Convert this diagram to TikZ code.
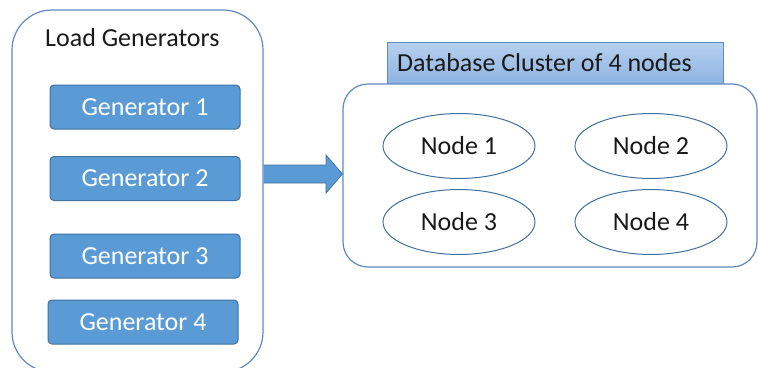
\documentclass[tikz,border=0pt]{standalone}
\usepackage{fontspec}
\setmainfont{Carlito}
\usetikzlibrary{shapes.geometric,calc}
\definecolor{gfill}{HTML}{5B9BD5}
\definecolor{gline}{HTML}{41719C}
\definecolor{oline}{HTML}{5E8BBF}
\definecolor{tabtop}{HTML}{B7D0EE}
\definecolor{tabbot}{HTML}{8DB3E2}
\definecolor{txt}{HTML}{1A1A1A}
\tikzset{
  big/.style={draw=oline, line width=1.2pt, fill=white, rounded corners=#1},
  genbox/.style={draw=gline, line width=1pt, fill=gfill, rounded corners=4pt,
    minimum width=190pt, minimum height=44pt, text=white, font=\fontsize{26}{30}\selectfont, inner sep=0pt},
  dbnode/.style={ellipse, draw=gline, line width=1pt, fill=white,
    minimum width=152pt, minimum height=65pt, text=txt, font=\fontsize{26}{30}\selectfont, inner sep=0pt},
  tab/.style={draw=oline, line width=1pt, top color=tabtop, bottom color=tabbot,
    minimum width=336pt, minimum height=42pt, inner sep=0pt},
  lbl/.style={text=txt, font=\fontsize{26}{30}\selectfont, inner sep=0pt, anchor=west}
}
\begin{document}
\begin{tikzpicture}[x=1pt,y=-1pt]
\useasboundingbox (0,0) rectangle (758,367);
\clip (0,0) rectangle (758,367);
\fill[white] (0,0) rectangle (758,367);
% left container
\node[big=40pt, minimum width=251pt, minimum height=362pt, inner sep=0pt] (lg) at (137.5,191) {};
\node[lbl] (lgt) at (45,38) {Load Generators};
\node[genbox] (g1) at (145,107) {Generator 1};
\node[genbox] (g2) at (145,178.5) {Generator 2};
\node[genbox] (g3) at (145,256) {Generator 3};
\node[genbox] (g4) at (143,322) {Generator 4};
% cluster
\node[tab] (tb) at (555,63) {};
\node[lbl] (tbt) at (397,63) {Database Cluster of 4 nodes};
\node[big=25pt, minimum width=414pt, minimum height=183pt, inner sep=0pt] (cl) at (550,175.5) {};
\node[dbnode] (n1) at (459,146) {Node 1};
\node[dbnode] (n2) at (651,146) {Node 2};
\node[dbnode] (n3) at (459,222) {Node 3};
\node[dbnode] (n4) at (651,222) {Node 4};
% arrow
\draw[draw=gline, line width=0.8pt, fill=gfill]
  (lg.east |- 0,165) -- (326,165) -- (326,155) -- (cl.west |- 0,174) -- (326,193) -- (326,183) -- (lg.east |- 0,183);
\end{tikzpicture}
\end{document}
